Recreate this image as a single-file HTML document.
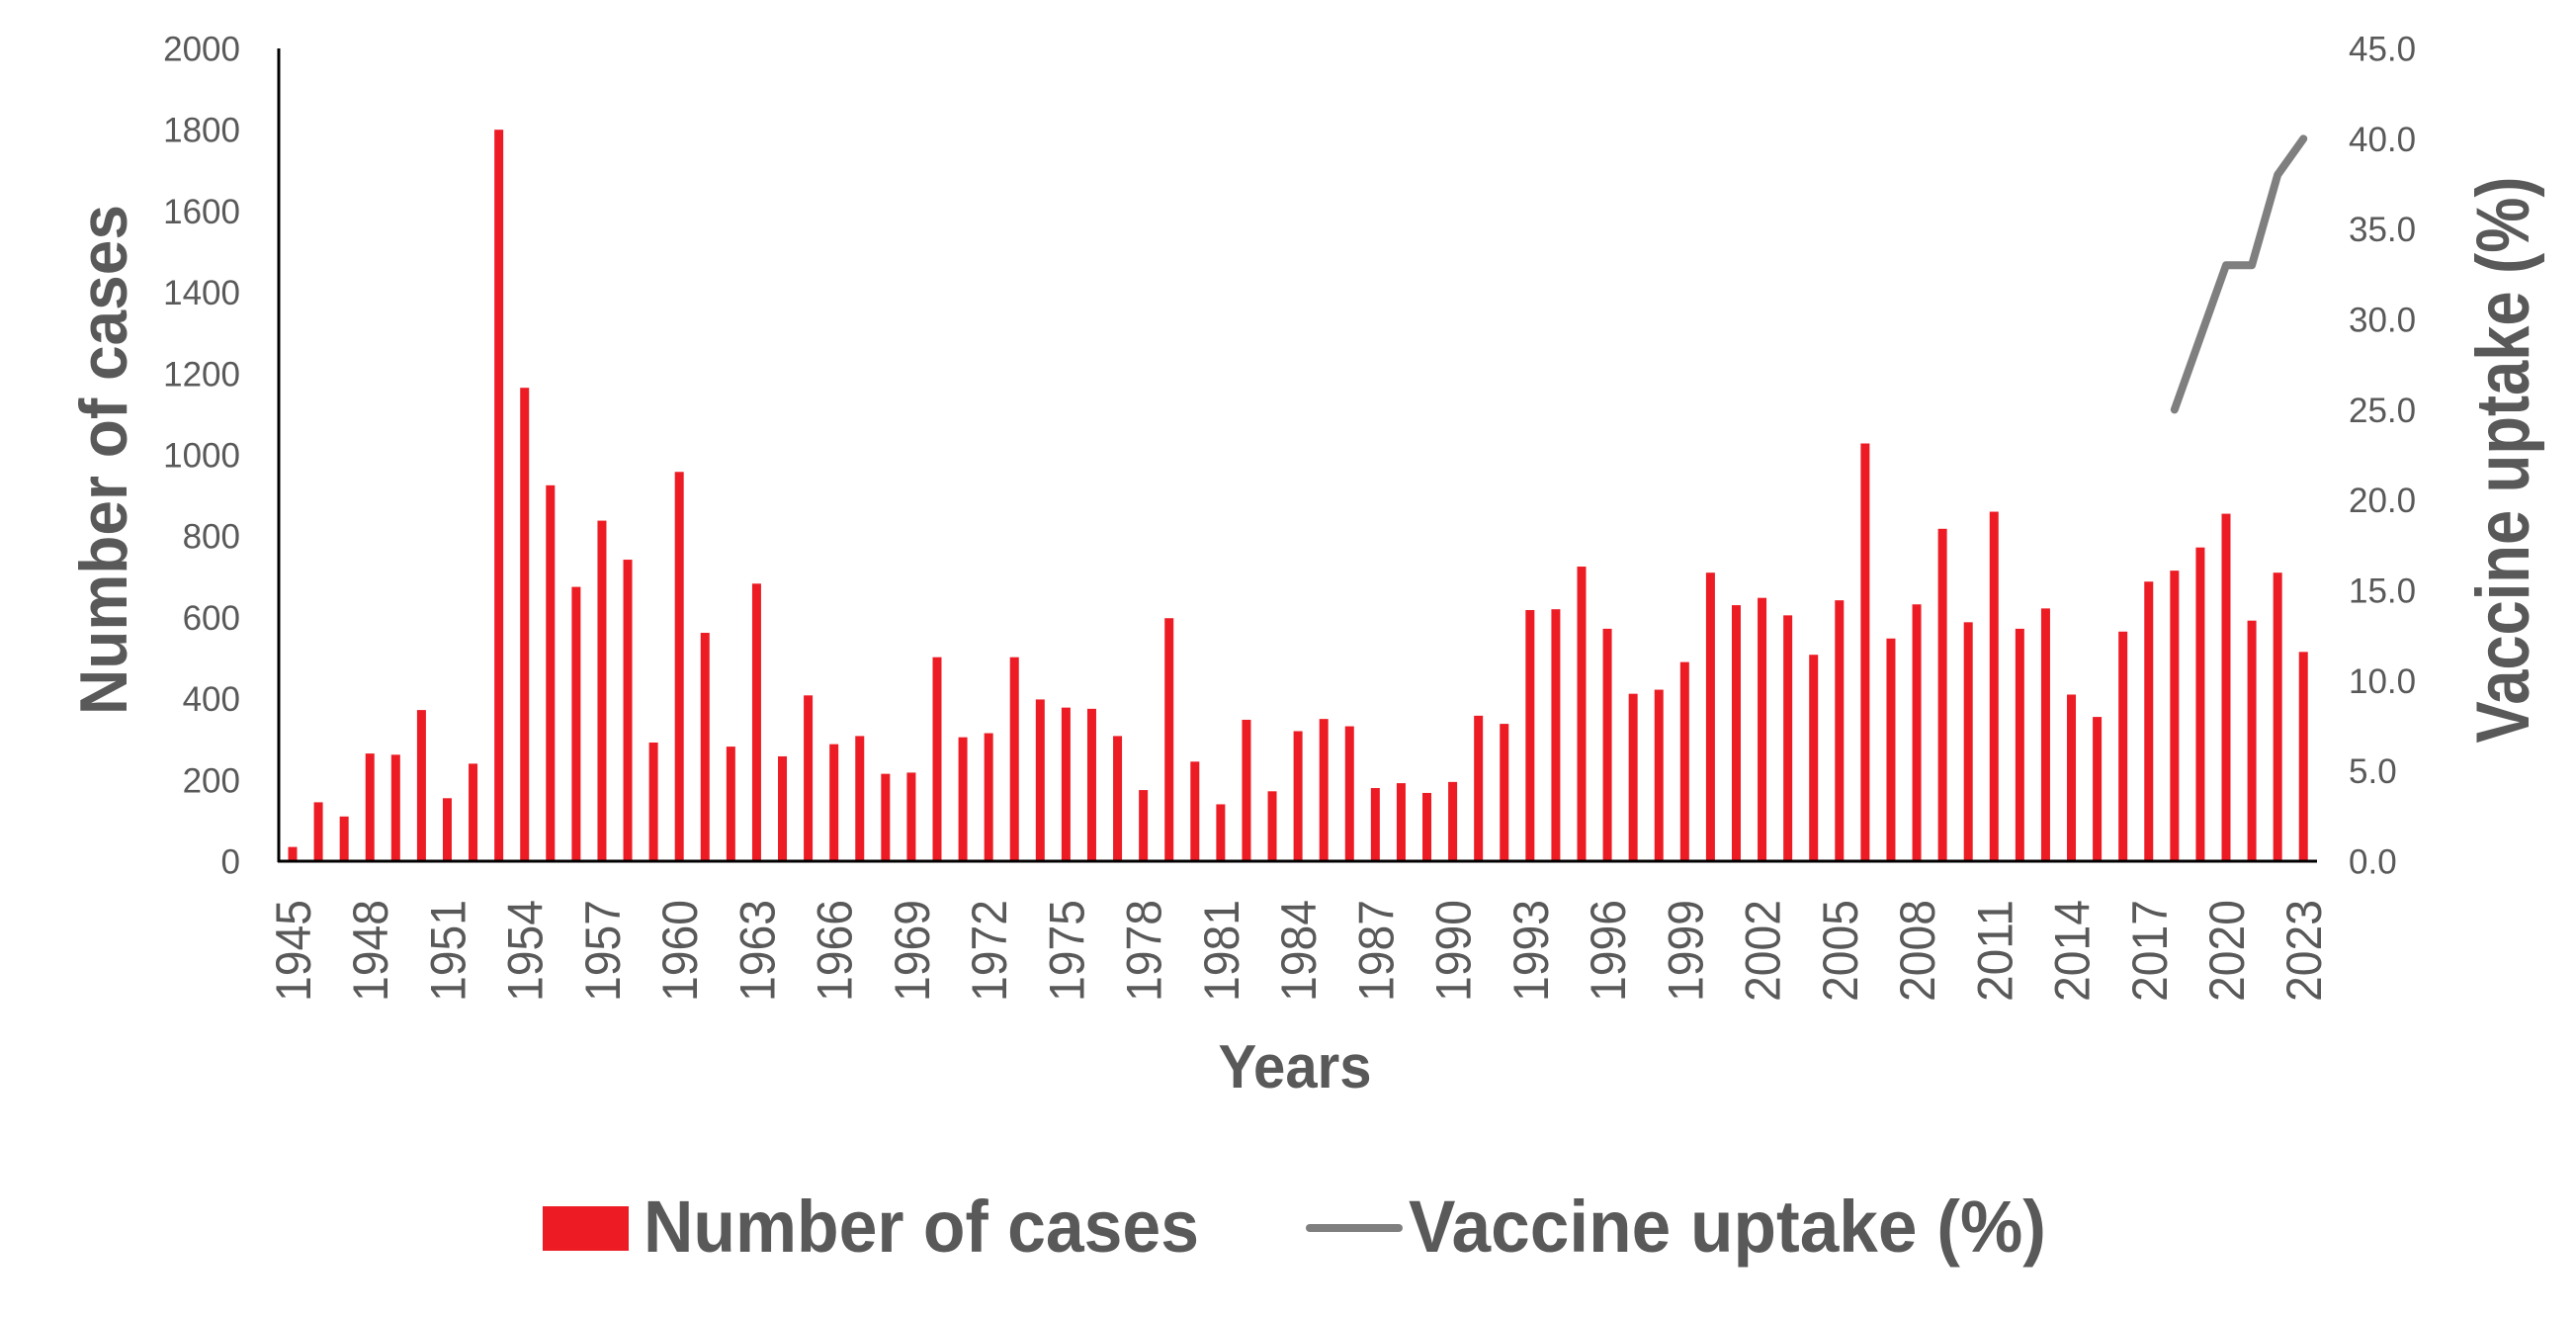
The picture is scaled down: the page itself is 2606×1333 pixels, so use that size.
<!DOCTYPE html>
<html><head><meta charset="utf-8"><style>
html,body{margin:0;padding:0;background:#fff;}
svg{display:block;}
text{font-family:"Liberation Sans",sans-serif;fill:#595959;}
</style></head><body>
<svg width="2606" height="1333" viewBox="0 0 2606 1333" xmlns="http://www.w3.org/2000/svg">
<g id="bars" fill="#ED1C24"></g>
<g id="ylabels" font-size="35" text-anchor="end"></g>
<g id="rlabels" font-size="35"></g>
<g id="xlabels" font-size="50"></g>
<line x1="282" y1="49" x2="282" y2="872" stroke="#000" stroke-width="3"/>
<line x1="281" y1="871" x2="2344" y2="871" stroke="#000" stroke-width="3"/>
<polyline id="vline" fill="none" stroke="#7F7F7F" stroke-width="8" stroke-linejoin="round" stroke-linecap="round"/>
<text x="0" y="0" transform="translate(128,465) rotate(-90)" text-anchor="middle" font-size="68" font-weight="bold" textLength="516" lengthAdjust="spacingAndGlyphs">Number of cases</text>
<text x="0" y="0" transform="translate(2558,465) rotate(-90)" text-anchor="middle" font-size="76" font-weight="bold" textLength="573" lengthAdjust="spacingAndGlyphs">Vaccine uptake (%)</text>
<text x="1310" y="1100" text-anchor="middle" font-size="62" font-weight="bold" textLength="155" lengthAdjust="spacingAndGlyphs">Years</text>
<rect x="549" y="1220" width="87" height="45" fill="#ED1C24"/>
<text x="651" y="1266" font-size="74" font-weight="bold" textLength="562" lengthAdjust="spacingAndGlyphs">Number of cases</text>
<line x1="1325" y1="1242" x2="1415" y2="1242" stroke="#7F7F7F" stroke-width="8" stroke-linecap="round"/>
<text x="1425" y="1266" font-size="74" font-weight="bold" textLength="645" lengthAdjust="spacingAndGlyphs">Vaccine uptake (%)</text>
</svg>
<script>
(function(){
var d=[35,145,110,265,262,372,155,240,1800,1165,925,675,838,742,292,958,562,282,683,258,408,288,308,215,218,502,305,315,502,398,378,375,308,175,598,245,140,348,172,320,350,332,180,192,168,195,358,338,618,620,725,572,412,422,490,710,630,648,605,508,642,1028,548,632,818,588,860,572,622,410,355,565,688,715,772,855,592,710,515];
var NS="http://www.w3.org/2000/svg";
function el(t,a,txt){var e=document.createElementNS(NS,t);for(var k in a)e.setAttribute(k,a[k]);if(txt!==undefined)e.textContent=txt;return e;}
var yBase=871,yTop=49,sc=(yBase-yTop)/2000,pitch=26.08,x0=296;
var B=document.getElementById('bars');
d.forEach(function(v,i){var cx=x0+i*pitch;B.appendChild(el('rect',{x:cx-4.5,y:yBase-v*sc,width:9,height:v*sc}));});
var YL=document.getElementById('ylabels');
for(var v=0;v<=2000;v+=200){YL.appendChild(el('text',{x:243,y:yBase-v*sc+12.5},String(v)));}
var RL=document.getElementById('rlabels');
for(var p=0;p<=45;p+=5){RL.appendChild(el('text',{x:2376,y:yBase-p*(yBase-yTop)/45+12.5},p.toFixed(1)));}
var XL=document.getElementById('xlabels');
for(var i=0;i<79;i+=3){var cx=x0+i*pitch;XL.appendChild(el('text',{x:0,y:0,'text-anchor':'end',transform:'translate('+(cx+18)+',910) rotate(-90)',textLength:103,lengthAdjust:'spacingAndGlyphs'},String(1945+i)));}
var vv=[[2018,25],[2020,33],[2021,33],[2022,38],[2023,40]];
document.getElementById('vline').setAttribute('points',vv.map(function(q){return (x0+(q[0]-1945)*pitch)+','+(yBase-q[1]*(yBase-yTop)/45);}).join(' '));
})();
</script>
</body></html>
